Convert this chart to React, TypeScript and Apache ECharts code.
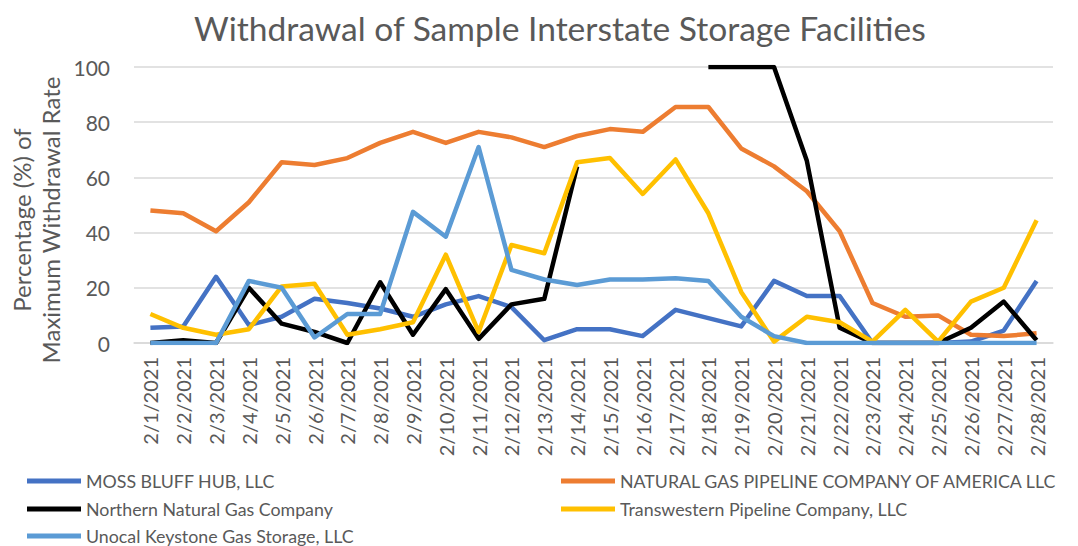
import React, { useEffect, useRef } from "react";
import * as echarts from "echarts";

const categories = [
  "2/1/2021", "2/2/2021", "2/3/2021", "2/4/2021", "2/5/2021", "2/6/2021", "2/7/2021",
  "2/8/2021", "2/9/2021", "2/10/2021", "2/11/2021", "2/12/2021", "2/13/2021", "2/14/2021",
  "2/15/2021", "2/16/2021", "2/17/2021", "2/18/2021", "2/19/2021", "2/20/2021", "2/21/2021",
  "2/22/2021", "2/23/2021", "2/24/2021", "2/25/2021", "2/26/2021", "2/27/2021", "2/28/2021",
];

const mossBluff = [5.5, 6, 24, 6.5, 9.5, 16, 14.5, 12.5, 9.5, 14, 17, 13, 1, 5, 5, 2.5, 12, 9, 6, 22.5, 17, 17, 0, 0, 0, 0.5, 4.5, 22.5];
const ngpl = [48, 47, 40.5, 51, 65.5, 64.5, 67, 72.5, 76.5, 72.5, 76.5, 74.5, 71, 75, 77.5, 76.5, 85.5, 85.5, 70.5, 64, 55, 40.5, 14.5, 9.5, 10, 3, 2.5, 3.5];
const northern = [0, 1, 0, 20, 7, 4, 0, 22, 3, 19.5, 1.5, 14, 16, 64, null, null, null, 100, 100, 100, 66, 5.5, 0, 0, 0, 5.5, 15, 1];
const transwestern = [10.5, 5.5, 3, 5, 20.5, 21.5, 3, 5, 7.5, 32, 4, 35.5, 32.5, 65.5, 67, 54, 66.5, 47, 18.5, 0.5, 9.5, 7.5, 0.5, 12, 0.5, 15, 20, 44.5];
const unocal = [0, 0, 0, 22.5, 20, 2, 10.5, 10.5, 47.5, 38.5, 71, 26.5, 23, 21, 23, 23, 23.5, 22.5, 9.5, 2.5, 0, 0, 0, 0, 0, 0, 0, 0];

const seriesNames = [
  "MOSS BLUFF HUB, LLC",
  "NATURAL GAS PIPELINE COMPANY OF AMERICA LLC",
  "Northern Natural Gas Company",
  "Transwestern Pipeline Company, LLC",
  "Unocal Keystone Gas Storage, LLC",
];
const seriesData = [mossBluff, ngpl, northern, transwestern, unocal];
const seriesColors = ["#4472C4", "#ED7D31", "#000000", "#FFC000", "#5B9BD5"];

const yTicks = { min: 0, max: 100, interval: 20 };
const FONT = "Lato, 'Open Sans', sans-serif";
const TEXT = "#595959";

// legend slots: [series index, left, row center y]
const legendSlots: [number, number, number][] = [
  [0, 27, 481],
  [1, 561, 481],
  [2, 27, 509],
  [3, 561, 509],
  [4, 27, 536],
];

export default function App() {
  const ref = useRef<HTMLDivElement>(null);
  useEffect(() => {
    document.body.style.margin = "0";
    const chart = echarts.init(ref.current!, null, { renderer: "svg" });
    chart.setOption({
      animation: false,
      backgroundColor: "#ffffff",
      title: {
        text: "Withdrawal of Sample Interstate Storage Facilities",
        left: 189,
        top: 6,
        textStyle: { color: TEXT, fontFamily: FONT, fontSize: 33.6, fontWeight: "normal" },
      },
      legend: legendSlots.map(([si, left, cy]) => ({
        orient: "horizontal",
        icon: "rect",
        itemWidth: 54,
        itemHeight: 5,
        itemGap: 5,
        padding: 0,
        left,
        top: cy - 11,
        data: [seriesNames[si]],
        textStyle: { color: TEXT, fontFamily: FONT, fontSize: 17.8, lineHeight: 22 },
      })),
      grid: { left: 134, right: 25, top: 67, bottom: 203 },
      xAxis: {
        type: "category",
        data: categories,
        boundaryGap: true,
        axisLine: { lineStyle: { color: "#d9d9d9", width: 1.5 } },
        axisTick: { show: false },
        axisLabel: { rotate: 90, interval: 0, margin: 14, color: TEXT, fontFamily: FONT, fontSize: 20 },
      },
      yAxis: {
        type: "value",
        min: yTicks.min,
        max: yTicks.max,
        interval: yTicks.interval,
        axisLine: { show: false },
        axisTick: { show: false },
        splitLine: { lineStyle: { color: "#d9d9d9", width: 1.5 } },
        axisLabel: { margin: 24, color: TEXT, fontFamily: FONT, fontSize: 21 },
      },
      graphic: [
        {
          type: "text",
          x: 36,
          y: 220,
          rotation: Math.PI / 2,
          style: {
            text: "Percentage (%) of\nMaximum Withdrawal Rate",
            align: "center",
            verticalAlign: "middle",
            fill: TEXT,
            font: `24px ${FONT}`,
            lineHeight: 29,
          },
        },
      ],
      series: seriesNames.map((name, i) => ({
        name,
        type: "line",
        data: seriesData[i],
        showSymbol: false,
        symbol: "none",
        connectNulls: false,
        lineStyle: { color: seriesColors[i], width: 4.5, join: "round" },
        itemStyle: { color: seriesColors[i] },
      })),
    });
    return () => chart.dispose();
  }, []);
  return <div ref={ref} style={{ width: 1078, height: 546 }} />;
}
